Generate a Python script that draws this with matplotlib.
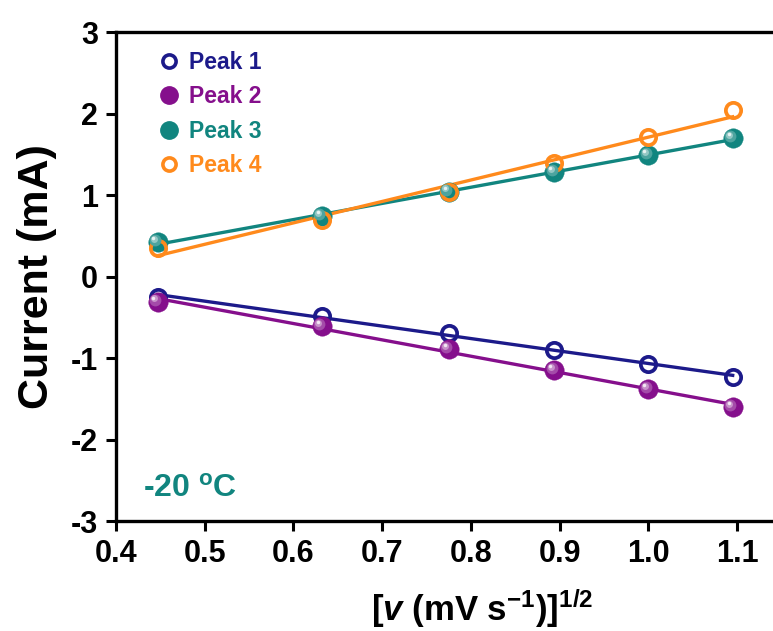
import numpy as np
import matplotlib.pyplot as plt
import matplotlib.transforms as mtransforms
from matplotlib.colors import to_rgb

plt.rcParams['font.family'] = ['Liberation Sans', 'DejaVu Sans']
plt.rcParams['font.weight'] = 'bold'
plt.rcParams['mathtext.fontset'] = 'custom'
plt.rcParams['mathtext.rm'] = 'Liberation Sans:bold'
plt.rcParams['mathtext.it'] = 'Liberation Sans:italic:bold'

# square root of scan rate
x = [0.447, 0.632, 0.775, 0.894, 1.000, 1.095]
peak1 = [-0.25, -0.48, -0.69, -0.90, -1.07, -1.23]
peak2 = [-0.31, -0.61, -0.89, -1.15, -1.38, -1.60]
peak3 = [0.42, 0.74, 1.04, 1.28, 1.49, 1.70]
peak4 = [0.35, 0.69, 1.04, 1.39, 1.71, 2.05]
labels = ['Peak 1', 'Peak 2', 'Peak 3', 'Peak 4']
colors = ['#1c1a8a', '#850f8c', '#11857f', '#ff8a1c']
filled = [False, True, True, False]

def lighter(c, f):
    r, g, b = to_rgb(c)
    return (r + (1 - r) * f, g + (1 - g) * f, b + (1 - b) * f)

fig = plt.figure(figsize=(7.73, 6.31), dpi=100)
ax = fig.add_axes([0.150, 0.174, 0.861, 0.775])

xs = np.array(x)
handles = []
for ys, lab, col, fl in zip([peak1, peak2, peak3, peak4], labels, colors, filled):
    k, d = np.polyfit(xs, ys, 1)
    xf = np.array([xs[0], xs[-1]])
    ax.plot(xf, k * xf + d, '-', color=col, lw=2.4, zorder=2)
    if fl:
        ax.plot(xs, ys, 'o', ms=14, mfc=col, mec=col, mew=0.3, zorder=3)
        for s, f, off in [(8.5, 0.25, 1.7), (5, 0.55, 2.5), (2.5, 0.9, 3.0)]:
            tr = mtransforms.offset_copy(ax.transData, fig=fig, x=-off, y=off, units='points')
            ax.plot(xs, ys, 'o', ms=s, mfc=lighter(col, f), mec='none', zorder=4, transform=tr)
        h = plt.Line2D([], [], ls='none', marker='o', ms=12.5, mfc=col, mec=col, color=col)
    else:
        ax.plot(xs, ys, 'o', ms=11, mfc='none', mec=col, mew=2.7, zorder=3)
        h = plt.Line2D([], [], ls='none', marker='o', ms=9.5, mfc='none', mec=col, mew=2.6, color=col)
    handles.append(h)

leg = ax.legend(handles, labels, loc='upper left', bbox_to_anchor=(0.038, 0.99), frameon=False,
                handletextpad=0.3, labelspacing=0.5, handlelength=1.2, borderaxespad=0.2,
                prop={'size': 16.5, 'weight': 'bold'})
for t, col in zip(leg.get_texts(), colors):
    t.set_color(col)

ax.text(0.040, 0.066, r'-20 $^{\mathrm{o}}$C', transform=ax.transAxes, color='#11857f',
        fontsize=23, fontweight='bold', va='center', ha='left')

ax.set_xlim(0.4, 1.15)
ax.set_ylim(-3, 3)
ax.set_xticks([0.4, 0.5, 0.6, 0.7, 0.8, 0.9, 1.0, 1.1])
ax.set_xticklabels(['0.4', '0.5', '0.6', '0.7', '0.8', '0.9', '1.0', '1.1'])
ax.set_yticks([-3, -2, -1, 0, 1, 2, 3])
ax.set_yticklabels(['-3', '-2', '-1', '0', '1', '2', '3'])
ax.tick_params(direction='out', length=7, width=2.2, labelsize=22, pad=6)
for sp in ax.spines.values():
    sp.set_linewidth(2.4)

ax.set_ylabel('Current (mA)', fontsize=31, fontweight='bold', labelpad=10)
ax.set_xlabel(r'[$\mathit{v}$ (mV s$^{\mathrm{-1}}$)]$^{\mathrm{1/2}}$', fontsize=25, fontweight='bold')
ax.xaxis.set_label_coords(0.551, -0.135)

fig.savefig('out.png', dpi=100)
